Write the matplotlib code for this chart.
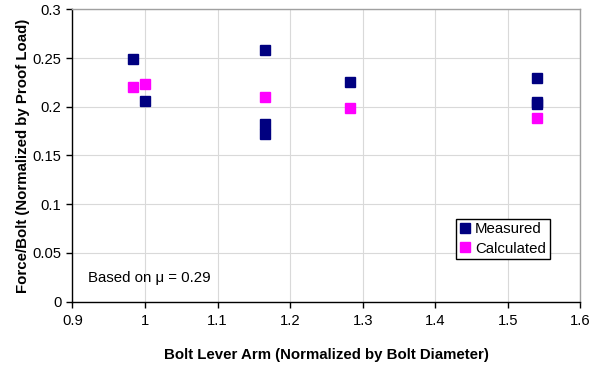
import matplotlib
matplotlib.use("Agg")
import matplotlib.pyplot as plt

plt.rcParams["font.family"] = ["Liberation Sans", "DejaVu Sans"]

# Measured points
meas_x = [0.983, 1.0, 1.165, 1.165, 1.165, 1.283, 1.54, 1.54, 1.54]
meas_y = [0.2487, 0.206, 0.258, 0.182, 0.172, 0.225, 0.2298, 0.2052, 0.2028]

# Calculated points
calc_x = [0.983, 1.0, 1.165, 1.283, 1.54]
calc_y = [0.220, 0.223, 0.2103, 0.1987, 0.1888]

x_ticks = [0.9, 1.0, 1.1, 1.2, 1.3, 1.4, 1.5, 1.6]
x_labels = ["0.9", "1", "1.1", "1.2", "1.3", "1.4", "1.5", "1.6"]
y_ticks = [0, 0.05, 0.1, 0.15, 0.2, 0.25, 0.3]
y_labels = ["0", "0.05", "0.1", "0.15", "0.2", "0.25", "0.3"]

fs = 10.8

fig = plt.figure(figsize=(5.98, 3.69), dpi=100)
ax = fig.add_axes([0.1212, 0.1824, 0.8495, 0.7924])

ax.plot(meas_x, meas_y, "s", color="#000080", markersize=6.8, linestyle="none",
        label="Measured", zorder=3)
ax.plot(calc_x, calc_y, "s", color="#FF00FF", markersize=6.8, linestyle="none",
        label="Calculated", zorder=3)

ax.set_xlim(0.9, 1.6)
ax.set_ylim(0, 0.3)
ax.set_xticks(x_ticks)
ax.set_xticklabels(x_labels)
ax.set_yticks(y_ticks)
ax.set_yticklabels(y_labels)
ax.tick_params(axis="both", labelsize=10.6, direction="out", length=4, width=1)
ax.tick_params(axis="x", pad=5)
ax.tick_params(axis="y", pad=4)
ax.grid(True, color="#d9d9d9", linewidth=0.8)
ax.set_axisbelow(True)

for side in ["top", "right"]:
    ax.spines[side].set_color("#a0a0a0")
    ax.spines[side].set_linewidth(1)
for side in ["left", "bottom"]:
    ax.spines[side].set_color("black")
    ax.spines[side].set_linewidth(1)

ax.set_xlabel("Bolt Lever Arm (Normalized by Bolt Diameter)", fontsize=fs,
              fontweight="bold", labelpad=14)
ax.set_ylabel("Force/Bolt (Normalized by Proof Load)", fontsize=fs,
              fontweight="bold", labelpad=1.5)

ax.text(0.922, 0.0245, "Based on \u03bc = 0.29", fontsize=fs, va="center")

leg = ax.legend(loc="lower left", bbox_to_anchor=(0.754, 0.145), fontsize=fs,
                frameon=True, fancybox=False, edgecolor="black", framealpha=1,
                handlelength=0.7, handletextpad=0.35, borderpad=0.25,
                labelspacing=0.35, borderaxespad=0, markerscale=1.05)
leg.get_frame().set_linewidth(1)

plt.savefig("out.png", dpi=100)
plt.close()
